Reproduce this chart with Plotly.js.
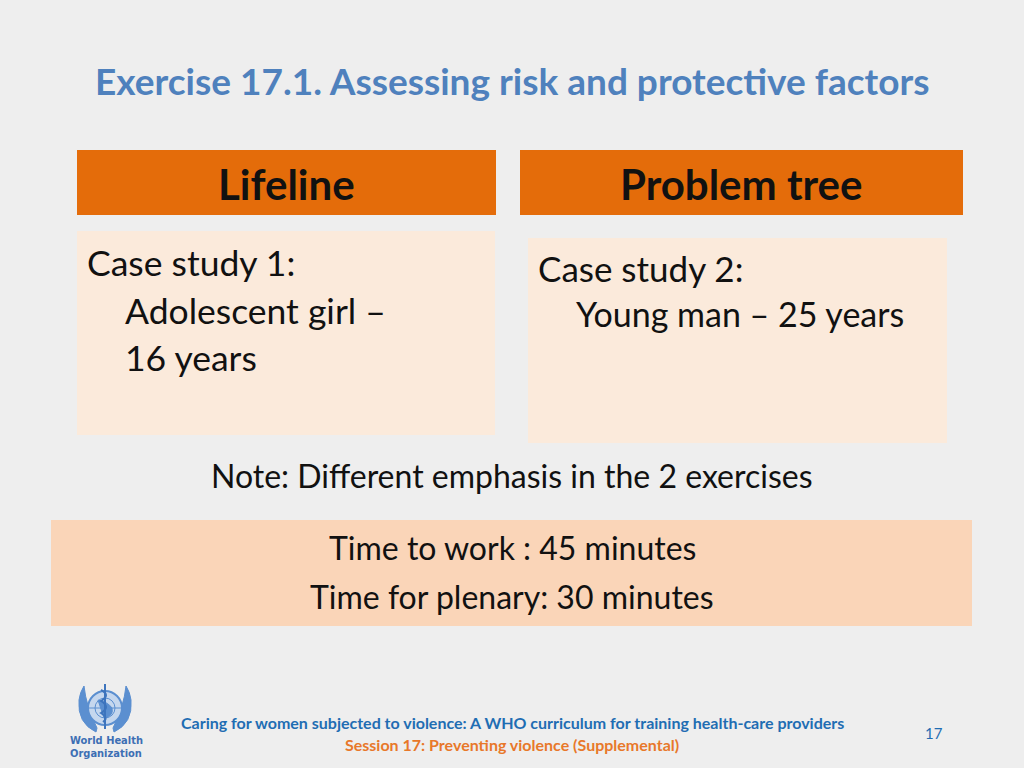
<!DOCTYPE html>
<html>
<head>
<meta charset="utf-8">
<script src="https://cdn.plot.ly/plotly-3.0.1.min.js"></script>
<style>
html,body{margin:0;padding:0;background:#eeeeee;}
#chart{width:1024px;height:768px;}
</style>
</head>
<body>
<div id="chart"></div>
<script>
// ---- content (text only) ----
const slideTitle = "Exercise 17.1. Assessing risk and protective factors";
const headers = ["Lifeline", "Problem tree"];
const caseHeads = ["Case study 1:", "Case study 2:"];
const case1Lines = ["Adolescent girl \u2013", "16 years"];
const case2Lines = ["Young man \u2013 25 years"];
const noteText = "Note: Different emphasis in the 2 exercises";
const timeLines = ["Time to work : 45 minutes", "Time for plenary: 30 minutes"];
const footerLines = ["Caring for women subjected to violence: A WHO curriculum for training health-care providers",
                     "Session 17: Preventing violence (Supplemental)"];
const pageNumber = "17";
const logoLines = ["World Health", "Organization"];

// ---- styling / layout ----
const FONT = "Lato, 'Open Sans', sans-serif";
const ORANGE = "#e46c0a";
const PEACH1 = "#fbeadb";
const PEACH2 = "#fad5b8";
const TITLEBLUE = "#4f81bd";
const FOOTBLUE = "#1f6db3";
const FOOTORANGE = "#e8782a";

const shapes = [];
const ann = [];
function rect(x0,y0,x1,y1,color){
  shapes.push({type:"rect",xref:"x",yref:"y",x0:x0,y0:y0,x1:x1,y1:y1,fillcolor:color,line:{width:0},layer:"below"});
}
function txt(t,x,y,size,color,opts){
  opts = opts||{};
  ann.push({text:t,x:x,y:y,xref:"x",yref:"y",showarrow:false,
    xanchor:opts.xanchor||"center",yanchor:"middle",borderpad:0,
    font:{family:opts.family||FONT,size:size,color:color}});
}

// title
txt("<b>"+slideTitle+"</b>",512,80,37,TITLEBLUE);

// header bars
rect(77,150,496,215,ORANGE);
rect(520,150,963,215,ORANGE);
txt("<b>"+headers[0]+"</b>",286,184,42,"#111111");
txt("<b>"+headers[1]+"</b>",741,184,42,"#111111");

// case boxes
rect(77,231,495,435,PEACH1);
rect(528,238,947,443,PEACH1);
txt(caseHeads[0],86,262,35.5,"#111111",{xanchor:"left"});
case1Lines.forEach((l,i)=>txt(l,124,310+i*47,35.5,"#111111",{xanchor:"left"}));
txt(caseHeads[1],537,268,35,"#111111",{xanchor:"left"});
case2Lines.forEach((l,i)=>txt(l,575,313+i*47,34,"#111111",{xanchor:"left"}));

// note
txt(noteText,512,475,32,"#111111");

// time box
rect(51,520,972,626,PEACH2);
timeLines.forEach((l,i)=>txt(l,512,547+i*49,32,"#111111"));

// footer
txt("<b>"+footerLines[0]+"</b>",512,722,16,FOOTBLUE);
txt("<b>"+footerLines[1]+"</b>",512,744,16,FOOTORANGE);
txt(pageNumber,934,733,15,FOOTBLUE);

// WHO emblem (simplified)
const LB = "#5b8fd0";
shapes.push({type:"path",xref:"x",yref:"y",path:"M 96 732 Q 77 723 79 700 Q 80 692 84 686 Q 86 706 97 728 Z",fillcolor:LB,line:{color:LB,width:1}});
shapes.push({type:"path",xref:"x",yref:"y",path:"M 114 732 Q 133 723 131 700 Q 130 692 126 686 Q 124 706 113 728 Z",fillcolor:LB,line:{color:LB,width:1}});
shapes.push({type:"circle",xref:"x",yref:"y",x0:88,y0:691,x1:122,y1:725,line:{color:LB,width:2},fillcolor:"#c5d7ee"});
shapes.push({type:"circle",xref:"x",yref:"y",x0:95,y0:698,x1:115,y1:718,line:{color:LB,width:1},fillcolor:"rgba(0,0,0,0)"});
shapes.push({type:"line",xref:"x",yref:"y",x0:88,y0:708,x1:122,y1:708,line:{color:LB,width:1}});
shapes.push({type:"path",xref:"x",yref:"y",path:"M 98 700 Q 108 702 112 708 Q 114 716 104 718 Z",fillcolor:LB,line:{color:LB,width:1}});
shapes.push({type:"line",xref:"x",yref:"y",x0:105,y0:684,x1:105,y1:729,line:{color:"#3d74bd",width:2}});
shapes.push({type:"path",xref:"x",yref:"y",path:"M 101 690 Q 111 695 101 701 Q 111 707 101 713 Q 109 718 103 722",line:{color:"#3d74bd",width:2}});
const LOGOFONT = "'DejaVu Sans Condensed', sans-serif";
txt("<b>"+logoLines[0]+"</b>",106,740,11,"#3d6fb4",{family:LOGOFONT});
txt("<b>"+logoLines[1]+"</b>",106,753,11,"#3d6fb4",{family:LOGOFONT});

const layout = {
  width:1024,height:768,
  margin:{l:0,r:0,t:0,b:0},
  paper_bgcolor:"#eeeeee",plot_bgcolor:"#eeeeee",
  xaxis:{range:[0,1024],visible:false,fixedrange:true},
  yaxis:{range:[768,0],visible:false,fixedrange:true},
  showlegend:false,
  shapes:shapes,
  annotations:ann
};
Plotly.newPlot("chart",[{x:[],y:[],type:"scatter",mode:"markers",hoverinfo:"skip"}],layout,{staticPlot:true,displayModeBar:false});
</script>
</body>
</html>
